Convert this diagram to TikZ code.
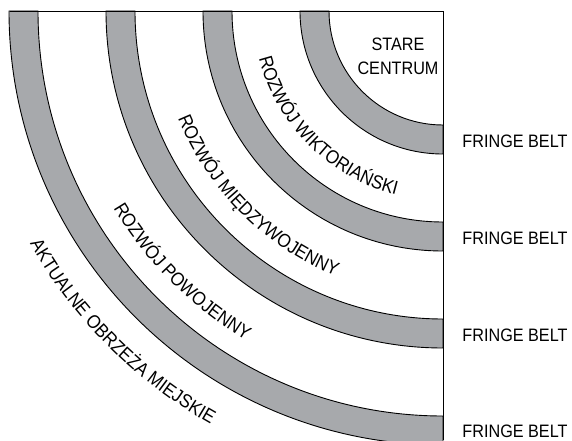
\documentclass[tikz,border=0pt]{standalone}
\usepackage{fontspec}
\usetikzlibrary{decorations.text}
\newfontfamily\labfont{Liberation Sans}[FakeStretch=0.9]
\newcommand\labsize{\labfont\fontsize{18}{24}\selectfont}
\newcommand\arcsize{\labfont\fontsize{19}{24}\selectfont}
\definecolor{beltgray}{HTML}{A7A9AC}
\begin{document}
\begin{tikzpicture}[x=1pt,y=1pt,line width=0.9pt,
  belt/.style={fill=beltgray,draw=black},
  fbtext/.style={font=\labsize,inner sep=0pt,anchor=west},
  arctext/.style={decorate,decoration={text along path,text align=center,text={|\arcsize|#1}}}]
\useasboundingbox (0,0) rectangle (572,440);
% centre of the concentric belts (top right corner of the plan)
\coordinate (C) at (443,429);
\coordinate (TL) at (10,429);
\coordinate (BR) at (443,0);
\begin{scope}
  \clip (0,0) rectangle (572,440);
  \foreach \ri/\ro in {114/143,211/240,308/337,405/434}{
    \draw[belt] ([shift={(180:\ro)}]C) arc[start angle=180,end angle=270,radius=\ro]
      -- ([shift={(270:\ri)}]C) arc[start angle=270,end angle=180,radius=\ri] -- cycle;
  }
\end{scope}
\draw (TL) -- (C) -- (BR);
% labels along the rings
\path[arctext={ROZWÓJ WIKTORIAŃSKI}] ([shift={(180:190)}]C) arc[start angle=180,end angle=270,radius=190];
\path[arctext={ROZWÓJ MIĘDZYWOJENNY}] ([shift={(180:286)}]C) arc[start angle=180,end angle=270,radius=286];
\path[arctext={ROZWÓJ POWOJENNY}] ([shift={(180:384)}]C) arc[start angle=180,end angle=270,radius=384];
\path[arctext={AKTUALNE OBRZEŻA MIEJSKIE}] ([shift={(180:474)}]C) arc[start angle=180,end angle=270,radius=474];
\node[font=\labsize,align=center,inner sep=0pt] (centre) at (398,383.5) {STARE\\CENTRUM};
\node[fbtext] (fb1) at (462,298.5) {FRINGE BELT};
\node[fbtext] (fb2) at (462,201.5) {FRINGE BELT};
\node[fbtext] (fb3) at (462,105) {FRINGE BELT};
\node[fbtext] (fb4) at (462,9) {FRINGE BELT};
\end{tikzpicture}
\end{document}
